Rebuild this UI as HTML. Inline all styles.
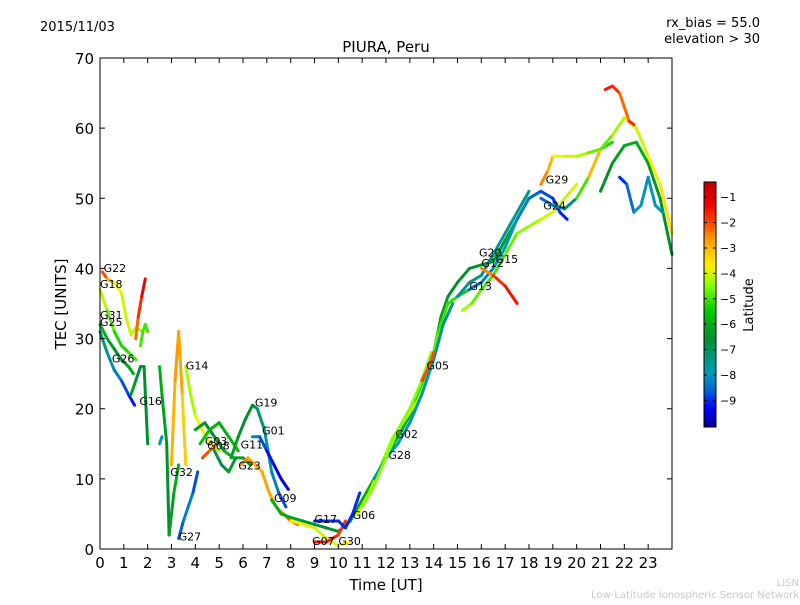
<!DOCTYPE html>
<html><head><meta charset="utf-8"><style>
body{margin:0;background:#fff;}
svg text{font-family:"DejaVu Sans","Liberation Sans",sans-serif;}
</style></head><body>
<svg id="chart" width="800" height="600" xmlns="http://www.w3.org/2000/svg">
<defs>
<linearGradient id="jet" x1="0" y1="1" x2="0" y2="0"></linearGradient>
</defs>
<rect x="0" y="0" width="800" height="600" fill="#fff"/>
<text x="40" y="31" font-size="13">2015/11/03</text>
<text x="760" y="27" font-size="13" text-anchor="end">rx_bias = 55.0</text>
<text x="760" y="43" font-size="13" text-anchor="end">elevation &gt; 30</text>
<text x="386" y="52" font-size="15" text-anchor="middle">PIURA, Peru</text>
<g id="plot"></g>
<rect x="100" y="58" width="572" height="491" fill="none" stroke="#000" stroke-width="1"/>
<g id="axes"></g>
<text x="386" y="590" font-size="15" text-anchor="middle">Time [UT]</text>
<text transform="translate(66,304) rotate(-90)" font-size="15" text-anchor="middle">TEC [UNITS]</text>
<rect x="704" y="182" width="12" height="245" fill="url(#jet)" stroke="#000" stroke-width="1"/>
<g id="cbticks"></g>
<text transform="translate(753,305) rotate(-90)" font-size="13" text-anchor="middle">Latitude</text>
<text x="799" y="586" font-size="10" fill="#c8c8c8" text-anchor="end">LISN</text>
<text x="799" y="598" font-size="10" fill="#c8c8c8" text-anchor="end">Low-Latitude Ionospheric Sensor Network</text>
</svg>
<script>
const xTicks=[0,1,2,3,4,5,6,7,8,9,10,11,12,13,14,15,16,17,18,19,20,21,22,23];
const yTicks=[0,10,20,30,40,50,60,70];
const cbTicks=[-1,-2,-3,-4,-5,-6,-7,-8,-9];
const satNames=["G22","G18","G31","G25","G26","G16","G14","G32","G27","G03","G08","G19","G01","G11","G23","G09","G17","G07","G30","G06","G28","G02","G05","G13","G12","G15","G20","G24","G29"];
const labelT=[0.15,0.0,0.0,0.0,0.5,1.65,3.6,2.95,3.3,4.4,4.5,6.5,6.8,5.9,5.8,7.3,9.0,8.9,10.0,10.6,12.1,12.4,13.7,15.5,16.0,16.6,15.9,18.6,18.7];
const labelV=[39.5,37.2,32.8,31.8,26.6,20.5,25.6,10.4,1.2,14.8,14.2,20.3,16.3,14.3,11.3,6.7,3.7,0.6,0.6,4.3,12.8,15.8,25.6,36.9,40.2,40.8,41.7,48.4,52.1];
const tracks=[
 {t:[0.1,0.3,0.6,0.9,1.1,1.3,1.5,1.8],v:[39.5,38.5,38,36.5,33,30.5,31.5,31],lat:[-1.5,-2.5,-3.5,-4,-4,-4,-4.3,-4.5]},
 {t:[0,0.3,0.6,0.9,1.2,1.5],v:[37,34,31,29,28,27],lat:[-3.8,-4.5,-5,-5.5,-5,-5]},
 {t:[0,0.3,0.6,0.9,1.2,1.4],v:[32,30,28.5,27,26,25],lat:[-6,-6,-6.5,-6.5,-6,-6]},
 {t:[0,0.3,0.6,0.9,1.2,1.45],v:[31,28,25.5,24,22,20.5],lat:[-7,-7.5,-8,-8.5,-9,-9.3]},
 {t:[1.5,1.6,1.75,1.9],v:[30,33,36,38.5],lat:[-2.5,-2,-1.5,-1]},
 {t:[1.3,1.5,1.7,1.85,2.0],v:[22,24,26,26,15],lat:[-6,-6.5,-7,-6.5,-6.5]},
 {t:[1.7,1.8,1.9,2.0],v:[29,31,32,31],lat:[-5,-5,-5,-5]},
 {t:[2.5,2.6,2.8,2.9,3.1,3.3],v:[26,22,15,2,8,12],lat:[-6,-6,-6.5,-6.5,-6,-6]},
 {t:[2.5,2.6],v:[15,16],lat:[-8,-8]},
 {t:[3.0,3.15,3.3,3.45,3.6],v:[12,24,31,22,12],lat:[-3,-2.8,-2.5,-3,-3.5]},
 {t:[3.3,3.5,3.7,3.9,4.1],v:[1.5,4,6,8,11],lat:[-8.8,-8.5,-8,-8.5,-9]},
 {t:[3.6,3.8,4.0,4.3,4.6,5.0],v:[26,22,19,17,15,14],lat:[-4,-4.5,-4,-3.5,-4,-4.5]},
 {t:[4.0,4.4,4.8,5.2,5.6,6.0,6.3],v:[17,18,16,14,13,13,12],lat:[-6,-6.5,-6.5,-6,-6,-6.5,-6]},
 {t:[4.2,4.6,5.0,5.4,5.8],v:[15,17,18,16,14],lat:[-5.5,-5.8,-6,-6,-5.5]},
 {t:[4.8,5.1,5.4,5.7],v:[14,12,11,13],lat:[-6.8,-7,-6.5,-6]},
 {t:[4.3,4.6,4.9],v:[13,14,15],lat:[-2,-2,-2.5]},
 {t:[5.5,5.8,6.1,6.4,6.6,6.9,7.2,7.5,7.8],v:[13,16,18.5,20.5,20,17,11,8,6],lat:[-6,-6.5,-6.5,-6.5,-7,-7.5,-8,-8.5,-9]},
 {t:[6.4,6.7,7.0,7.3,7.6,7.9],v:[16,16,14,12,10,8.5],lat:[-8,-8.5,-9,-9.5,-9.5,-9.5]},
 {t:[5.9,6.2,6.5,6.8,7.1,7.4,7.7,8.0,8.3],v:[12,13,12,11,8,6,5,4,3.5],lat:[-2.5,-2.5,-3,-3,-2.5,-3,-2.5,-2,-1.5]},
 {t:[7.2,7.6,8,8.5,9,9.5,10,10.5,11,11.5,12,12.5,13,13.5,14,14.3,14.6,15,15.5,16,16.5,17,17.5,18,18.5],v:[7,5,4.5,4,3.5,3,2.5,4,7,10,13,16,19,23,28,33,36,38,40,40.5,41,44,47,50,51],lat:[-6,-6,-6,-6.2,-6.5,-6.5,-6.5,-6.2,-6,-6,-6,-6,-6,-6,-6,-6.2,-6.5,-6.5,-6.5,-6.5,-6.5,-6.2,-6,-6,-6]},
 {t:[10.8,11.3,11.8,12.3,12.8,13.3,13.8,14.2,14.6,15.0,15.5],v:[5,8,12,16,18.5,21,25,31,35,36,37],lat:[-4,-4,-4.2,-4.5,-4,-4,-4.5,-5,-5,-5.2,-5.5]},
 {t:[11.5,12,12.5,13,13.5,14,14.4,14.8],v:[10,13,15,18,22,27,32,35],lat:[-7.8,-7.8,-8,-8,-8,-7.8,-7.5,-7.5]},
 {t:[15,15.5,16,16.5,17,17.5,18],v:[36,38,39,42,45,48,51],lat:[-7.5,-7.5,-7.3,-7.5,-7.8,-7.5,-7.3]},
 {t:[8,8.5,9,9.5,10,10.5],v:[4,3.5,3,1.5,0.5,1],lat:[-3.5,-3.8,-4,-4,-3.8,-3.5]},
 {t:[9,9.5,10,10.3],v:[1,1,2,4],lat:[-1.5,-1.5,-1.8,-2]},
 {t:[9,9.5,10,10.3,10.6,10.9],v:[4,4,4,3,5,8],lat:[-9,-9,-9,-9,-9,-9]},
 {t:[11,11.5,12,12.5,13,13.5,13.9],v:[6,9,13,17,20,24,28],lat:[-4.5,-4.5,-4.5,-4.5,-4.5,-4.5,-4.5]},
 {t:[13.5,13.8,14],v:[24,26,28],lat:[-2,-2,-2]},
 {t:[15.2,15.6,16,16.5,17,17.5,18,18.5,19,19.5,20],v:[34,35,37,39,42,45,46,47,48,50,52],lat:[-4,-4.5,-5,-5,-5,-4.5,-4.5,-4,-4,-4,-4]},
 {t:[15.5,16,16.5,17,17.5,18,18.5,19,19.3,19.6],v:[37,38,40,43,47,50,51,50,48,47],lat:[-8.5,-8.5,-8,-8,-8,-8.5,-8.5,-9,-9,-9.2]},
 {t:[16,16.5,17,17.3,17.5],v:[40,39,37.5,36,35],lat:[-3,-2,-1.5,-1.5,-1.5]},
 {t:[18.5,18.8,19,19.5,20,20.5,21,21.5],v:[52,54,56,56,56,56.5,57,58],lat:[-2.5,-2.5,-3.5,-4,-4,-4.5,-5,-5.5]},
 {t:[18.5,19,19.5,20,20.5,21],v:[50,49,48.5,50,53,57],lat:[-8.5,-8.5,-8,-6,-4,-2]},
 {t:[21,21.5,22,22.5,23,23.5,24],v:[51,55,57.5,58,55,50,42],lat:[-6.5,-6.5,-6,-6,-6,-6.5,-6.5]},
 {t:[21,21.5,22,22.5,23,23.5,24],v:[57,59,61.5,60,56,52,45],lat:[-5,-4.5,-4,-4,-4,-3.5,-3.5]},
 {t:[21.2,21.5,21.8,22,22.2,22.4],v:[65.5,66,65,63,61,60.5],lat:[-1.5,-1.5,-2,-2.5,-2,-1.5]},
 {t:[21.8,22.1,22.4,22.7,23,23.3,23.6],v:[53,52,48,49,53,49,48],lat:[-9,-9,-8,-8,-8,-8,-8]}
];
const X0=100,X1=672,Y0=549,Y1=58,XMAX=24,YMAX=70;
function xs(t){return X0+(X1-X0)*t/XMAX;}
function ys(v){return Y0-(Y0-Y1)*v/YMAX;}
const LMIN=-10.05,LMAX=-0.4;
const cmapLat=[-10.05,-9.3,-8.6,-8,-7.3,-6.6,-5.5,-4.5,-3.7,-2.7,-2,-1.3,-0.4];
const cmapCol=[[0,0,140],[0,0,255],[0,100,210],[0,150,190],[0,150,120],[0,140,50],[0,200,0],[130,255,0],[255,240,0],[255,160,0],[255,70,0],[240,0,0],[190,0,0]];
function cmap(lat){
 if(lat<=cmapLat[0])return cmapCol[0];
 for(let i=0;i<cmapLat.length-1;i++){if(lat<=cmapLat[i+1]){const f=(lat-cmapLat[i])/(cmapLat[i+1]-cmapLat[i]);return cmapCol[i].map((c,j)=>Math.round(c+(cmapCol[i+1][j]-c)*f));}}
 return cmapCol[cmapCol.length-1];}
function jet(lat){const c=cmap(lat);return `rgb(${c[0]},${c[1]},${c[2]})`;}
const NS="http://www.w3.org/2000/svg";
const grad=document.getElementById('jet');
cmapLat.forEach((l,i)=>{const s=document.createElementNS(NS,'stop');s.setAttribute('offset',(l-LMIN)/(LMAX-LMIN));const c=cmapCol[i];s.setAttribute('stop-color',`rgb(${c[0]},${c[1]},${c[2]})`);grad.appendChild(s);});
const plot=document.getElementById('plot'),axes=document.getElementById('axes'),cb=document.getElementById('cbticks');
tracks.forEach((tr,k)=>{
 const g=document.createElementNS(NS,'g');
 
 
 for(let i=0;i<tr.t.length-1;i++){
  const l=document.createElementNS(NS,'line');
  l.setAttribute('x1',xs(tr.t[i]));l.setAttribute('y1',ys(tr.v[i]));
  l.setAttribute('x2',xs(tr.t[i+1]));l.setAttribute('y2',ys(tr.v[i+1]));
  l.setAttribute('stroke',jet((tr.lat[i]+tr.lat[i+1])/2));
  l.setAttribute('stroke-width','3');l.setAttribute('stroke-linecap','round');
  
  
  g.appendChild(l);}
 plot.appendChild(g);});
satNames.forEach((n,i)=>{
 const t=document.createElementNS(NS,'text');
 t.setAttribute('x',xs(labelT[i]));t.setAttribute('y',ys(labelV[i]));
 t.setAttribute('font-size','11');t.textContent=n;
 
 
 plot.appendChild(t);});
xTicks.forEach(v=>{
 const x=xs(v);
 const a=document.createElementNS(NS,'path');
 a.setAttribute('d',`M${x},${Y0}v-5M${x},${Y1}v5`);a.setAttribute('stroke','#000');
 
 
 axes.appendChild(a);
 const t=document.createElementNS(NS,'text');
 t.setAttribute('x',x);t.setAttribute('y',568);t.setAttribute('font-size','15');t.setAttribute('text-anchor','middle');t.textContent=v;
 
 
 axes.appendChild(t);});
yTicks.forEach(v=>{
 const y=ys(v);
 const a=document.createElementNS(NS,'path');
 a.setAttribute('d',`M${X0},${y}h5M${X1},${y}h-5`);a.setAttribute('stroke','#000');
 
 
 axes.appendChild(a);
 const t=document.createElementNS(NS,'text');
 t.setAttribute('x',94);t.setAttribute('y',y+6);t.setAttribute('font-size','15');t.setAttribute('text-anchor','end');t.textContent=v;
 
 
 axes.appendChild(t);});
cbTicks.forEach(v=>{
 const y=427-245*(v-LMIN)/(LMAX-LMIN);
 const a=document.createElementNS(NS,'path');
 a.setAttribute('d',`M716,${y}h-3M704,${y}h3`);a.setAttribute('stroke','#000');
 
 
 cb.appendChild(a);
 const t=document.createElementNS(NS,'text');
 t.setAttribute('x',720);t.setAttribute('y',y+4);t.setAttribute('font-size','11');t.textContent='\u2212'+(-v);
 
 
 cb.appendChild(t);});
</script>
</body></html>
